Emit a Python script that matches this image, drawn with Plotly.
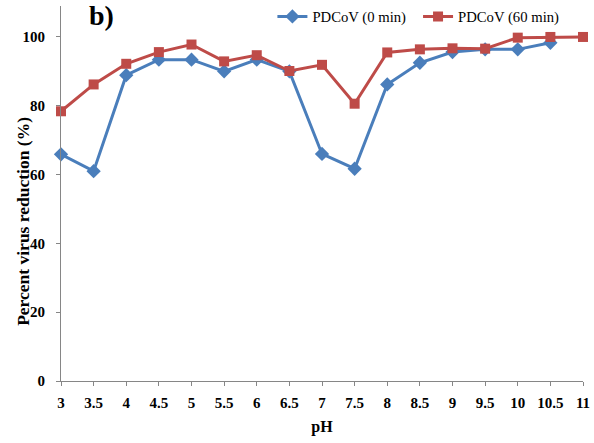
import plotly.graph_objects as go

ph = [3, 3.5, 4, 4.5, 5, 5.5, 6, 6.5, 7, 7.5, 8, 8.5, 9, 9.5, 10, 10.5, 11]
ph_0min = [3, 3.5, 4, 4.5, 5, 5.5, 6, 6.5, 7, 7.5, 8, 8.5, 9, 9.5, 10, 10.5]
red_60min = [78.4, 86.2, 92.2, 95.6, 97.8, 92.9, 94.7, 90.1, 91.9, 80.6, 95.5, 96.4, 96.7, 96.6, 99.8, 100, 100]
blue_0min = [65.9, 61.0, 88.9, 93.4, 93.4, 90.0, 93.4, 90.0, 66.0, 61.7, 86.2, 92.5, 95.6, 96.4, 96.4, 98.3]
x_ticks = [3, 3.5, 4, 4.5, 5, 5.5, 6, 6.5, 7, 7.5, 8, 8.5, 9, 9.5, 10, 10.5, 11]
x_tick_labels = ["3", "3.5", "4", "4.5", "5", "5.5", "6", "6.5", "7", "7.5", "8", "8.5", "9", "9.5", "10", "10.5", "11"]
y_ticks = [0, 20, 40, 60, 80, 100]

BLUE = "#4A7EBB"
RED = "#BE4B48"
FONT = "Liberation Serif"

fig = go.Figure()
fig.add_trace(go.Scatter(
    x=ph_0min, y=blue_0min, name="PDCoV (0 min)", mode="lines+markers",
    line=dict(color=BLUE, width=3),
    marker=dict(symbol="diamond", size=11, color=BLUE),
    cliponaxis=False, legend="legend",
))
fig.add_trace(go.Scatter(
    x=ph, y=red_60min, name="PDCoV (60 min)", mode="lines+markers",
    line=dict(color=RED, width=3),
    marker=dict(symbol="square", size=10, color=RED),
    cliponaxis=False, legend="legend2",
))

leg_common = dict(orientation="h", yanchor="middle", xanchor="left",
                  font=dict(family=FONT, size=14.7, color="black"),
                  bgcolor="rgba(0,0,0,0)", borderwidth=0)

fig.update_layout(
    width=594, height=443,
    margin=dict(l=61, r=11, t=6, b=62, autoexpand=False),
    plot_bgcolor="white", paper_bgcolor="white",
    font=dict(family=FONT, color="black", size=15),
    showlegend=True,
    legend=dict(x=0.405, y=0.971, **leg_common),
    legend2=dict(x=0.684, y=0.971, **leg_common),
    annotations=[
        dict(text="<b>b)</b>", x=0.05, y=1.02, xref="paper", yref="paper",
             xanchor="left", yanchor="top", showarrow=False,
             font=dict(family=FONT, size=28, color="black")),
        dict(text="<b>Percent virus reduction (%)</b>", x=-0.0728, y=0.427,
             xref="paper", yref="paper", xanchor="center", yanchor="middle",
             textangle=-90, showarrow=False,
             font=dict(family=FONT, size=17.5, color="black")),
    ],
)
fig.update_xaxes(
    range=[3, 11], tickmode="array", tickvals=x_ticks, ticktext=x_tick_labels,
    showgrid=False, zeroline=False, showline=True, linecolor="#868686", linewidth=1,
    ticks="outside", ticklen=4, tickcolor="#868686", automargin=False,
    ticklabelstandoff=4,
    tickfont=dict(family=FONT, size=15, color="black", weight="bold"),
    title=dict(text="<b>pH</b>", font=dict(family=FONT, size=16), standoff=10),
)
fig.update_yaxes(
    range=[0, 109], tickmode="array", tickvals=y_ticks,
    showgrid=False, zeroline=False, showline=True, linecolor="#868686", linewidth=1,
    ticks="outside", ticklen=4, tickcolor="#868686", automargin=False,
    ticklabelstandoff=8,
    tickfont=dict(family=FONT, size=15, color="black", weight="bold"),
)

fig.write_html("out.html", config={"displayModeBar": False},
               post_script="document.body.style.margin='0';document.body.style.padding='0';")
